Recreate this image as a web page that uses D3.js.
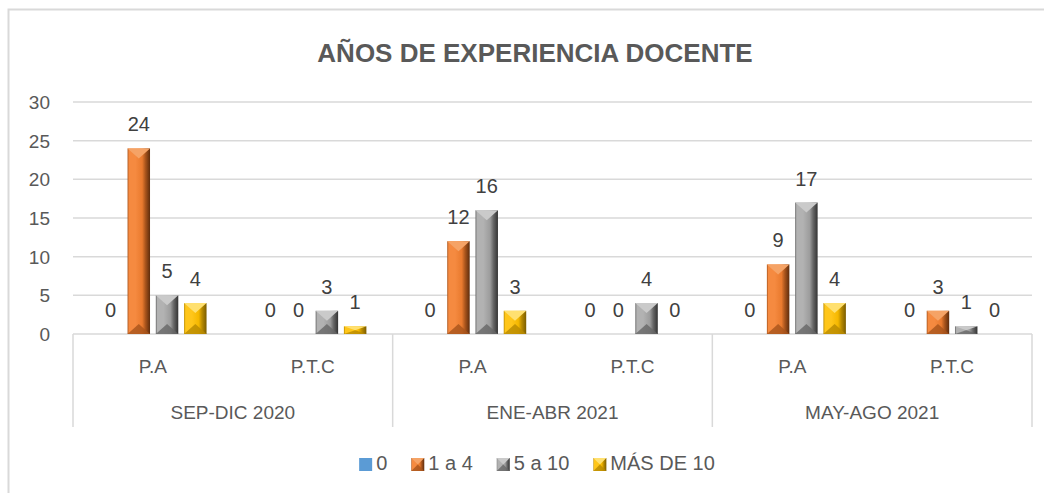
<!DOCTYPE html>
<html>
<head>
<meta charset="utf-8">
<script src="https://cdn.jsdelivr.net/npm/d3@7"></script>
<style>
  html, body { margin: 0; padding: 0; background: #fff; }
  svg { display: block; font-family: "Liberation Sans", Arial, sans-serif; }
</style>
</head>
<body>
<div id="chart"></div>
<script>
// chart data
const title = 'AÑOS DE EXPERIENCIA DOCENTE';
const periods = ['SEP-DIC 2020', 'ENE-ABR 2021', 'MAY-AGO 2021'];
const groups = ['P.A', 'P.T.C'];
const seriesNames = ['0', '1 a 4', '5 a 10', 'MÁS DE 10'];
// values in order: period x group (P.A, P.T.C)
const serie0 = [0, 0, 0, 0, 0, 0];
const serie1a4 = [24, 0, 12, 0, 9, 3];
const serie5a10 = [5, 3, 16, 4, 17, 1];
const serieMas10 = [4, 1, 3, 0, 4, 0];
const yTicks = [0, 5, 10, 15, 20, 25, 30];

const seriesValues = [serie0, serie1a4, serie5a10, serieMas10];

// colours: base, top face, bottom face, dark edge, light edge
const palette = [
  { base: '#5B9BD5', flat: true },
  { base: '#E97A2E', top: '#F5A366', bottom: '#A8541C', dark: '#5E2C0C', light: '#F58A40' },
  { base: '#9C9C9C', top: '#CACACA', bottom: '#666666', dark: '#333333', light: '#B2B2B2' },
  { base: '#F5B800', top: '#FFE070', bottom: '#B88A00', dark: '#7A5C00', light: '#FFC61A' }
];

const width = 1044, height = 493;
const margin = { top: 102, right: 12, bottom: 159, left: 73 };
const plotRight = width - margin.right;
const plotBottom = height - margin.bottom; // 334

const rows = [];
periods.forEach((p, i) => {
  groups.forEach((g, j) => {
    const idx = i * groups.length + j;
    rows.push({ period: p, group: g, values: seriesValues.map(s => s[idx]) });
  });
});

const svg = d3.select('#chart')
  .append('svg')
  .attr('width', width)
  .attr('height', height);

svg.append('rect').attr('width', width).attr('height', height).attr('fill', '#fff');

// chart frame (runs off the right and bottom edges)
svg.append('path')
  .attr('d', `M8.5,${height + 5}V9.5H${width + 5}`)
  .attr('fill', 'none')
  .attr('stroke', '#D9D9D9')
  .attr('stroke-width', 2);

// gradients for bevelled bars
const defs = svg.append('defs');
palette.forEach((c, i) => {
  if (c.flat) return;
  const g = defs.append('linearGradient')
    .attr('id', 'grad' + i)
    .attr('x1', '0%').attr('x2', '100%').attr('y1', '0%').attr('y2', '0%');
  [[0, c.bottom], [7, c.light], [35, c.light], [65, c.base], [80, c.bottom], [100, c.dark]]
    .forEach(([o, col]) => g.append('stop').attr('offset', o + '%').attr('stop-color', col));
});

const x0 = d3.scaleBand().domain(periods).range([margin.left, plotRight]).padding(0);
const x1 = d3.scaleBand().domain(groups).range([0, x0.bandwidth()]).padding(0);
const x2 = d3.scaleBand().domain(seriesNames).range([0, x1.bandwidth()])
  .paddingInner(0.205).paddingOuter(0.93);

const y = d3.scaleLinear().domain([0, 30]).range([plotBottom, margin.top]);

// gridlines
svg.append('g')
  .selectAll('line')
  .data(yTicks)
  .join('line')
  .attr('x1', margin.left)
  .attr('x2', plotRight)
  .attr('y1', d => y(d))
  .attr('y2', d => y(d))
  .attr('stroke', '#D9D9D9')
  .attr('stroke-width', 1.5);

// y tick labels
svg.append('g')
  .selectAll('text')
  .data(yTicks)
  .join('text')
  .attr('x', 50)
  .attr('y', d => y(d) + 7)
  .attr('text-anchor', 'end')
  .style('font-size', '19px')
  .style('fill', '#595959')
  .text(d => d);

// category dividers
svg.append('g')
  .selectAll('line')
  .data([...periods.map(p => x0(p)), plotRight])
  .join('line')
  .attr('x1', d => d).attr('x2', d => d)
  .attr('y1', plotBottom).attr('y2', 427)
  .attr('stroke', '#D9D9D9')
  .attr('stroke-width', 1.5);

// sub-category labels
svg.append('g')
  .selectAll('text')
  .data(rows)
  .join('text')
  .attr('x', d => x0(d.period) + x1(d.group) + x1.bandwidth() / 2)
  .attr('y', 373)
  .attr('text-anchor', 'middle')
  .style('font-size', '19px')
  .style('fill', '#595959')
  .text(d => d.group);

// period labels
svg.append('g')
  .selectAll('text')
  .data(periods)
  .join('text')
  .attr('x', d => x0(d) + x0.bandwidth() / 2)
  .attr('y', 419)
  .attr('text-anchor', 'middle')
  .style('font-size', '19px')
  .style('fill', '#595959')
  .text(d => d);

// draws a bevelled block
function bevelBlock(sel, bx, by, w, h, i) {
  const c = palette[i];
  if (c.flat) {
    sel.append('rect').attr('x', bx).attr('y', by).attr('width', w).attr('height', h).attr('fill', c.base);
    return;
  }
  if (h <= 0) return;
  sel.append('rect')
    .attr('x', bx).attr('y', by).attr('width', w).attr('height', h)
    .attr('fill', `url(#grad${i})`);
  const d = Math.min(w / 2, h / 2, 10);
  sel.append('path')
    .attr('d', `M${bx},${by}H${bx + w}L${bx + w / 2},${by + d}Z`)
    .attr('fill', c.top);
  sel.append('path')
    .attr('d', `M${bx},${by + h}H${bx + w}L${bx + w / 2},${by + h - d}Z`)
    .attr('fill', c.bottom)
    .attr('opacity', 0.8);
}

// bars
const barLayer = svg.append('g');
rows.forEach(r => {
  const gx = x0(r.period) + x1(r.group);
  r.values.forEach((v, i) => {
    const bx = gx + x2(seriesNames[i]);
    const by = y(v);
    bevelBlock(barLayer, bx, by, x2.bandwidth(), plotBottom - by, i);
  });
});

// data labels
const labelLayer = svg.append('g');
rows.forEach(r => {
  const gx = x0(r.period) + x1(r.group);
  r.values.forEach((v, i) => {
    labelLayer.append('text')
      .attr('x', gx + x2(seriesNames[i]) + x2.bandwidth() / 2)
      .attr('y', y(v) - 17)
      .attr('text-anchor', 'middle')
      .style('font-size', '20px')
      .style('fill', '#404040')
      .text(v);
  });
});

// title
svg.append('text')
  .attr('x', 535)
  .attr('y', 61.5)
  .attr('text-anchor', 'middle')
  .style('font-size', '26px')
  .style('font-weight', 'bold')
  .style('fill', '#595959')
  .text(title);

// legend
const legend = svg.append('g');
let lx = 0;
seriesNames.forEach((name, i) => {
  const item = legend.append('g').attr('transform', `translate(${lx},0)`);
  bevelBlock(item, 0, 458, 13, 13, i);
  const t = item.append('text')
    .attr('x', 17)
    .attr('y', 470)
    .style('font-size', '20px')
    .style('fill', '#595959')
    .text(name);
  lx += 17 + t.node().getComputedTextLength() + 24;
});
const legendWidth = lx - 24;
legend.attr('transform', `translate(${537 - legendWidth / 2},0)`);
</script>
</body>
</html>
